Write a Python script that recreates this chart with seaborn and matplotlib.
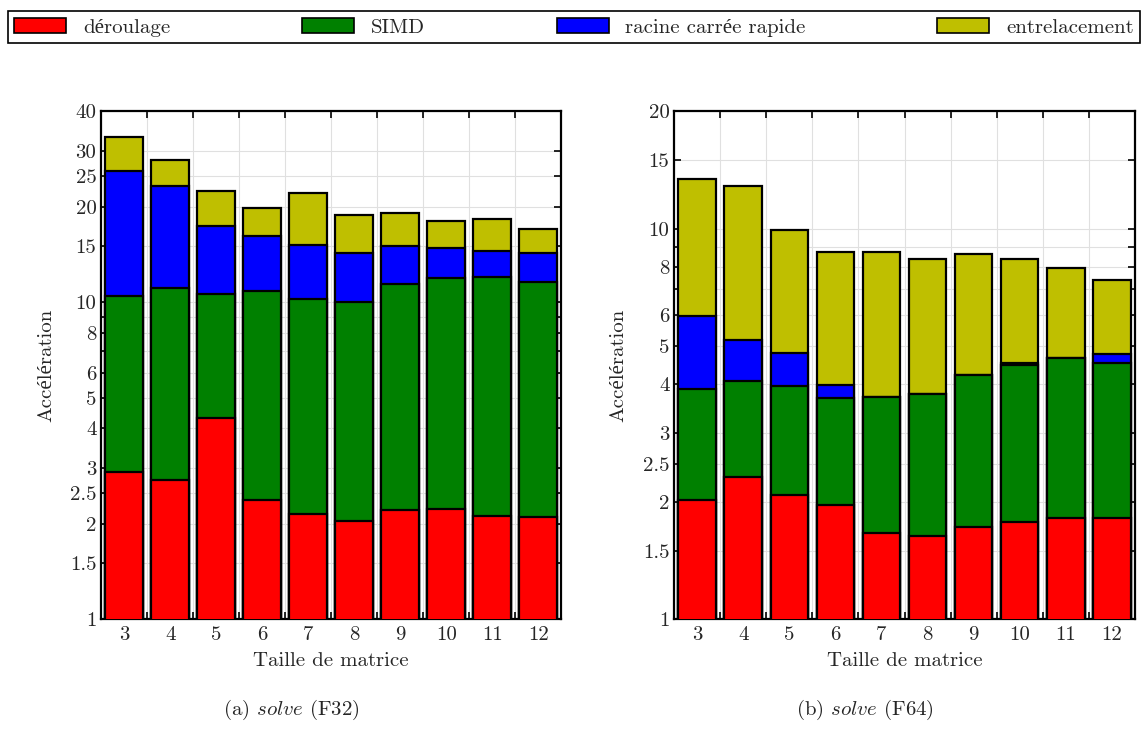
import matplotlib
matplotlib.use("Agg")
import matplotlib.pyplot as plt
import matplotlib.ticker as mticker
from matplotlib.patches import Patch
import seaborn as sns
import numpy as np

# ---------------- data (cumulative speedups) -------------
sizes = ["3", "4", "5", "6", "7", "8", "9", "10", "11", "12"]

f32_deroulage = [2.91, 2.75, 4.31, 2.38, 2.15, 2.04, 2.21, 2.23, 2.12, 2.10]
f32_simd      = [10.46, 11.08, 10.62, 10.86, 10.25, 10.05, 11.42, 11.95, 12.04, 11.60]
f32_racine    = [25.96, 23.2, 17.33, 16.2, 15.17, 14.25, 15.06, 14.87, 14.5, 14.25]
f32_entrelac  = [33.2, 28.0, 22.5, 19.85, 22.06, 18.83, 19.11, 18.09, 18.27, 16.98]

f64_deroulage = [2.02, 2.31, 2.08, 1.96, 1.66, 1.63, 1.72, 1.78, 1.82, 1.82]
f64_simd      = [3.89, 4.08, 3.96, 3.69, 3.72, 3.78, 4.22, 4.49, 4.68, 4.54]
f64_racine    = [5.97, 5.18, 4.80, 3.97, 3.72, 3.78, 4.22, 4.53, 4.68, 4.77]
f64_entrelac  = [13.44, 12.88, 9.94, 8.72, 8.72, 8.36, 8.64, 8.36, 7.94, 7.38]

series_names = ["déroulage", "SIMD", "racine carrée rapide", "entrelacement"]
series_colors = ["#ff0000", "#008000", "#0000ff", "#bfbf00"]

f32_ticks = [1, 1.5, 2, 2.5, 3, 4, 5, 6, 8, 10, 15, 20, 25, 30, 40]
f64_ticks = [1, 1.5, 2, 2.5, 3, 4, 5, 6, 8, 10, 15, 20]
minor_y = [7, 9]
f32_ylim = (1, 40)
f64_ylim = (1, 20)
xlabel = "Taille de matrice"
ylabel = "Accélération"
captions = [r"(a) $\mathit{solve}$ (F32)", r"(b) $\mathit{solve}$ (F64)"]

# ---------------- style -------------
sns.set_theme(style="white")
plt.rcParams["font.family"] = ["cmr10", "Liberation Serif", "DejaVu Serif"]
plt.rcParams["mathtext.fontset"] = "cm"
plt.rcParams["axes.formatter.use_mathtext"] = True
FS = 15

fig = plt.figure(figsize=(11.48, 7.34), dpi=100)
W, H = 1148, 734
ax1 = fig.add_axes([101.3 / W, 1 - 619.3 / H, 460 / W, 508 / H])
ax2 = fig.add_axes([674.3 / W, 1 - 619.3 / H, 460.4 / W, 508 / H])


def fmt(v):
    return ("%g" % v)


def draw(ax, layers, ticks, ylim):
    ax.set_yscale("log")
    # draw from the top of the stack down so each lower segment overlays
    for vals, col in reversed(list(zip(layers, series_colors))):
        sns.barplot(x=sizes, y=vals, order=sizes, color=col, saturation=1,
                    width=0.82, edgecolor="black", linewidth=1.6, ax=ax,
                    zorder=3)
    ax.set_ylim(*ylim)
    ax.set_xlim(-0.5, len(sizes) - 0.5)
    ax.yaxis.set_major_locator(mticker.FixedLocator(ticks))
    ax.yaxis.set_major_formatter(mticker.FixedFormatter([fmt(t) for t in ticks]))
    ax.yaxis.set_minor_locator(mticker.FixedLocator(minor_y))
    ax.yaxis.set_minor_formatter(mticker.NullFormatter())
    ax.xaxis.set_major_locator(mticker.FixedLocator(range(len(sizes))))
    ax.xaxis.set_major_formatter(mticker.FixedFormatter(sizes))
    ax.xaxis.set_minor_locator(mticker.FixedLocator(np.arange(0.5, len(sizes) - 1, 1.0)))
    ax.tick_params(axis="x", which="major", length=0, labelsize=FS, pad=5)
    ax.tick_params(axis="x", which="minor", direction="in", length=5, width=1.2,
                   top=True, bottom=True, color="black")
    ax.tick_params(axis="y", which="both", direction="in", length=5, width=1.2,
                   left=True, right=True, labelsize=FS, color="black")
    ax.grid(True, which="both", axis="y", color="#e0e0e0", linewidth=0.8, zorder=0)
    ax.grid(True, which="minor", axis="x", color="#e0e0e0", linewidth=0.8, zorder=0)
    ax.set_axisbelow(True)
    for s in ax.spines.values():
        s.set_color("black")
        s.set_linewidth(1.6)
    ax.set_xlabel(xlabel, fontsize=FS)
    ax.set_ylabel(ylabel, fontsize=FS)
    ax.xaxis.set_label_coords(0.5, -0.064)


draw(ax1, [f32_deroulage, f32_simd, f32_racine, f32_entrelac], f32_ticks, f32_ylim)
draw(ax2, [f64_deroulage, f64_simd, f64_racine, f64_entrelac], f64_ticks, f64_ylim)
ax1.yaxis.set_label_coords(-0.10, 0.5)
ax2.yaxis.set_label_coords(-0.103, 0.5)

fig.text(291 / W, 1 - 710 / H, captions[0], ha="center", va="center", fontsize=FS)
fig.text(865 / W, 1 - 710 / H, captions[1], ha="center", va="center", fontsize=FS)

handles = [Patch(facecolor=c, edgecolor="black", linewidth=1.2) for c in series_colors]
leg = fig.legend(handles, series_names, ncol=4, mode="expand", loc="lower left",
                 bbox_to_anchor=(8 / W, 1 - 43 / H, 1132 / W, 37 / H),
                 borderaxespad=0, fancybox=False, fontsize=FS,
                 handlelength=2.5, handleheight=0.8, handletextpad=0.8,
                 borderpad=0.3, framealpha=1)
leg.get_frame().set_edgecolor("black")
leg.get_frame().set_linewidth(1.2)

fig.savefig("out.png", dpi=100)
